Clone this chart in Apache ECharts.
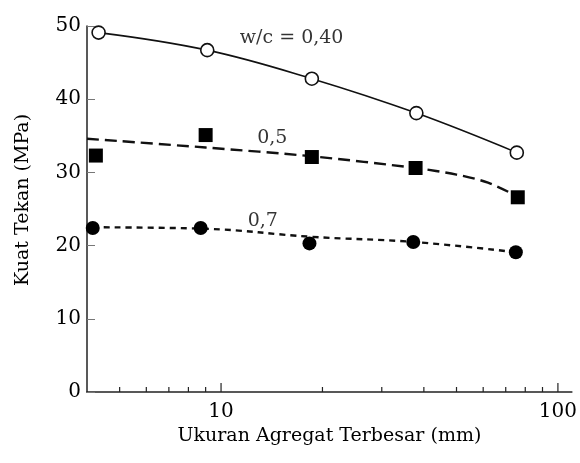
<!DOCTYPE html>
<html><head><meta charset="utf-8">
<script src="https://cdn.jsdelivr.net/npm/echarts@6/dist/echarts.min.js"></script>
<style>html,body{margin:0;padding:0;background:#fff}#c{width:580px;height:463px}</style>
</head><body><div id="c"></div>
<script>
// Marker data (x = max aggregate size in mm, y = strength MPa)
var pts040 = [[4.33,49.1],[9.1,46.7],[18.6,42.8],[38,38.1],[75.5,32.7]];
var pts05  = [[4.25,32.3],[9.0,35.1],[18.6,32.1],[37.8,30.6],[76,26.6]];
var pts07  = [[4.16,22.4],[8.7,22.4],[18.3,20.3],[37.2,20.5],[75,19.1]];
// Fitted trend curves
var curve040 = [[4.33,49.1],[9.1,46.7],[18.6,42.8],[38,38.1],[75.5,32.7]];
var curve05  = [[4.0,34.6],[9,33.4],[18.6,32.2],[37.8,30.6],[50,29.7],[62,28.6],[76,26.7]];
var curve07  = [[4.16,22.5],[9,22.3],[18.5,21.2],[37.2,20.5],[75,19.1]];
// Annotations
var notes = [[16.2,48.3,'w/c = 0,40'],[14.2,34.7,'0,5'],[13.3,23.3,'0,7']];
// Axis ticks
var xMajor = [10,100];
var xMinor = [5,6,7,8,9,20,30,40,50,60,70,80,90];
var FONT = 'DejaVu Serif';

function tickSeries(vals, len){
  return {
    type:'custom', xAxisIndex:0, yAxisIndex:0, silent:true, z:5,
    data: vals.map(function(v){return [v,0];}),
    renderItem:function(params, api){
      var p = api.coord([api.value(0), 0]);
      return {type:'line', shape:{x1:p[0],y1:p[1],x2:p[0],y2:p[1]-len},
              style:{stroke:'#222', lineWidth:1.2}};
    }
  };
}

var chart = echarts.init(document.getElementById('c'), null, {renderer:'canvas'});
chart.setOption({
  animation:false,
  backgroundColor:'#fff',
  grid:{left:87,right:5,top:26,bottom:71,containLabel:false},
  xAxis:{
    type:'log', logBase:10, min:4, max:110,
    name:'Ukuran Agregat Terbesar (mm)', nameLocation:'middle', nameGap:26,
    nameTextStyle:{fontFamily:FONT,fontSize:19,color:'#000'},
    axisLine:{show:true,lineStyle:{color:'#222',width:1.5}},
    axisTick:{show:false},
    splitLine:{show:false},
    axisLabel:{fontFamily:FONT,fontSize:20,color:'#000',margin:10,
      formatter:function(v){
        for(var i=0;i<xMajor.length;i++){ if(Math.abs(v-xMajor[i])<1e-6*xMajor[i]) return String(xMajor[i]); }
        return '';
      }}
  },
  yAxis:{
    type:'value', min:0, max:50, interval:10,
    name:'Kuat Tekan (MPa)', nameLocation:'middle', nameGap:54,
    nameTextStyle:{fontFamily:FONT,fontSize:19,color:'#000',padding:[0,0,0,18]},
    axisLine:{show:true,lineStyle:{color:'#222',width:1.5}},
    axisTick:{show:true,inside:true,length:8,lineStyle:{color:'#777'}},
    splitLine:{show:false},
    axisLabel:{fontFamily:FONT,fontSize:20,color:'#000',margin:6}
  },
  series:[
    {type:'line', data:curve040, smooth:0.4, symbol:'none',
     lineStyle:{color:'#111',width:1.6}, z:2},
    {type:'line', data:curve05, smooth:0.3, symbol:'none',
     lineStyle:{color:'#111',width:2.4,type:[12,6]}, z:2},
    {type:'line', data:curve07, smooth:0.4, symbol:'none',
     lineStyle:{color:'#111',width:2.4,type:[6,5]}, z:2},
    {type:'scatter', data:pts040, symbol:'circle', symbolSize:13,
     itemStyle:{color:'#fff',borderColor:'#111',borderWidth:1.6,opacity:1}, z:4},
    {type:'scatter', data:pts05, symbol:'rect', symbolSize:14,
     itemStyle:{color:'#000',opacity:1}, z:4},
    {type:'scatter', data:pts07, symbol:'circle', symbolSize:14,
     itemStyle:{color:'#000',opacity:1}, z:4},
    {type:'scatter', data:notes.map(function(n){return {value:[n[0],n[1]],name:n[2]};}),
     symbolSize:1, itemStyle:{color:'transparent'}, silent:true,
     label:{show:true,position:'inside',formatter:'{b}',fontFamily:FONT,fontSize:19,
            color:'#000',textBorderWidth:0,textBorderColor:'transparent'}, z:6},
    tickSeries(xMajor, 9),
    tickSeries(xMinor, 5)
  ]
});
</script></body></html>
